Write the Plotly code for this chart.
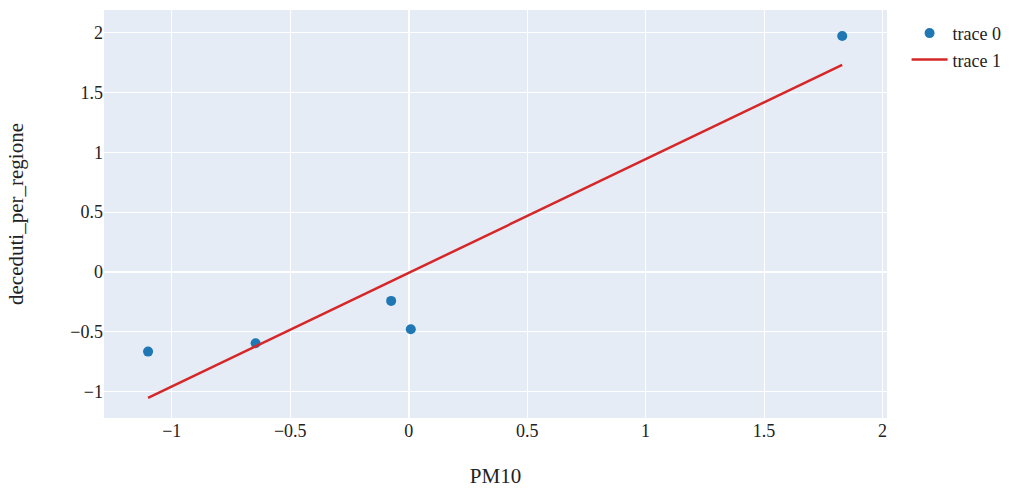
import plotly.graph_objects as go

pm10 = [-1.10, -0.646, -0.074, 0.009, 1.83]
deceduti = [-0.666, -0.596, -0.242, -0.479, 1.973]
fit_x = [-1.10, 1.83]
fit_y = [-1.053, 1.731]

fig = go.Figure()
fig.add_trace(go.Scatter(x=pm10, y=deceduti, mode="markers", name="trace 0",
                         marker=dict(color="#1f77b4", size=10)))
fig.add_trace(go.Scatter(x=fit_x, y=fit_y, mode="lines", name="trace 1",
                         line=dict(color="#d62728", width=2.5)))

fig.update_layout(
    template="plotly",
    width=1017, height=488,
    margin=dict(l=104, r=128, t=10, b=70),
    font=dict(family="Liberation Serif", size=18, color="#222222"),
    plot_bgcolor="#E5ECF6",
    paper_bgcolor="white",
    legend=dict(x=1.025, xanchor="left", y=0.988, font=dict(size=18),
                itemwidth=36, borderwidth=0),
    xaxis=dict(title=dict(text="PM10", font=dict(size=21), standoff=30), range=[-1.286, 2.019],
               tickvals=[-1, -0.5, 0, 0.5, 1, 1.5, 2], automargin=False),
    yaxis=dict(title=dict(text="deceduti_per_regione", font=dict(size=21), standoff=40),
               range=[-1.221, 2.19], tickvals=[-1, -0.5, 0, 0.5, 1, 1.5, 2], automargin=False),
)
fig.write_html("out.html")
